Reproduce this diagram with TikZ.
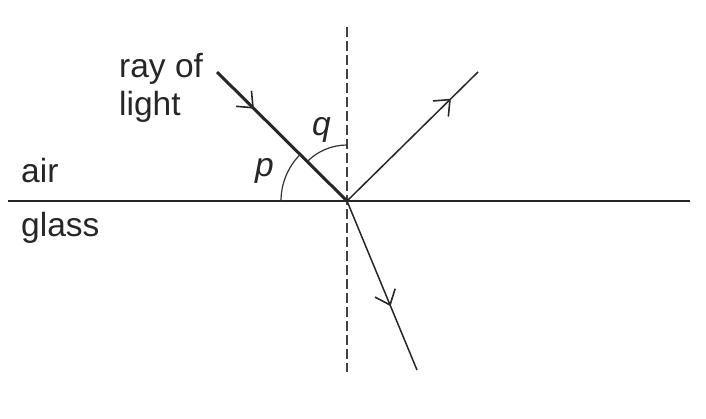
\documentclass[tikz,border=0pt]{standalone}
\usepackage{fontspec}
\setmainfont{Liberation Sans}
\usetikzlibrary{calc}
\begin{document}
\begin{tikzpicture}[x=1pt,y=-1pt,
  ln/.style={line width=1.5pt, draw=black!85},
  barbln/.style={line width=1.6pt, draw=black!85, line join=miter},
  lbl/.style={inner sep=0pt, anchor=base west, text=black!85, font=\fontsize{33.5}{38}\selectfont},
  ang/.style={inner sep=0pt, anchor=base west, text=black!85, font=\fontsize{33.5}{38}\selectfont\itshape}]
\useasboundingbox (0,0) rectangle (706,418);
\coordinate (O) at (347,201);
\coordinate (A) at (217,72);
\coordinate (R) at (478,72);
\coordinate (T) at (417,370);
\coordinate (L) at (8,201);
\coordinate (Rt) at (690,201);
\coordinate (Nt) at (347,27);
\coordinate (Nb) at (347,372);
\coordinate (Am) at ($(A)!0.277!(O)$);
\coordinate (Rm) at ($(O)!0.786!(R)$);
\coordinate (Tm) at ($(O)!0.615!(T)$);
% surface
\draw[line width=1.6pt, draw=black!85] (L) -- (Rt);
% normal
\draw[line width=1.5pt, draw=black!75, dash pattern=on 10pt off 4pt] (Nt) -- (Nb);
% rays
\draw[ln, line width=3pt] (A) -- (O);
\draw[barbln] ($(Am)!17pt!40:(A)$) -- (Am) -- ($(Am)!17pt!-40:(A)$);
\draw[ln] (O) -- (R);
\draw[barbln] ($(Rm)!17pt!40:(O)$) -- (Rm) -- ($(Rm)!17pt!-40:(O)$);
\draw[ln] (O) -- (T);
\draw[barbln] ($(Tm)!17pt!40:(O)$) -- (Tm) -- ($(Tm)!17pt!-40:(O)$);
% angles
\draw[line width=1.2pt, draw=black!80] ([shift={(180:66)}]O) arc[start angle=180, end angle=225, radius=66];
\draw[line width=1.2pt, draw=black!80] ([shift={(270:56)}]O) arc[start angle=270, end angle=225, radius=56];
% labels
\node[lbl] (ray) at (119,77) {ray of};
\node[lbl] (light) at (119,115) {light};
\node[lbl] (air) at (21,182) {air};
\node[lbl] (glass) at (21,236) {glass};
\node[ang] (p) at (255,176) {p};
\node[ang] (q) at (312,135) {q};
\end{tikzpicture}
\end{document}
